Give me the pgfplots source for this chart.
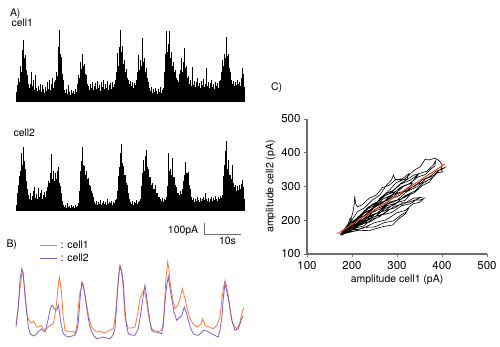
\documentclass[border=0pt]{standalone}
\usepackage{pgfplots}
\pgfplotsset{compat=1.18}
\usepackage{fontspec}
\setmainfont{TeX Gyre Heros}
\definecolor{cone}{HTML}{F47B3E}
\definecolor{ctwo}{HTML}{7E5FC4}
\definecolor{fitred}{HTML}{EE4422}
\definecolor{axgray}{HTML}{6E6E6E}
\begin{document}
\begin{tikzpicture}[x=1bp,y=1bp]
\useasboundingbox (0,0) rectangle (500,346);
% ---------- A: cell1 trace (heights above baseline) ----------
\begin{axis}[at={(16bp,244bp)}, anchor=south west, scale only axis,
  width=229bp, height=75bp, xmin=15.5, xmax=244.5, ymin=0, ymax=75,
  hide axis, clip=false]
\addplot[ycomb, black, line width=1.15bp, mark=none] table[row sep=\\, header=false, x expr=\coordindex+16, y index=0] {
10\\17\\24\\20\\36\\30\\52\\62\\44\\47\\32\\27\\18\\14\\18\\30\\16\\22\\12\\27\\14\\11\\16\\12\\18\\10\\17\\13\\9\\15\\11\\20\\13\\22\\12\\18\\24\\14\\20\\22\\
30\\26\\55\\72\\48\\45\\28\\22\\12\\9\\13\\8\\17\\10\\7\\12\\9\\11\\8\\13\\10\\18\\27\\24\\40\\33\\48\\36\\38\\28\\27\\18\\16\\12\\18\\14\\20\\12\\16\\19\\
13\\21\\14\\17\\11\\20\\15\\22\\13\\18\\14\\21\\12\\17\\19\\13\\20\\15\\18\\22\\30\\49\\36\\55\\72\\50\\56\\38\\42\\30\\33\\24\\22\\18\\21\\16\\20\\14\\19\\17\\
22\\30\\47\\32\\42\\36\\64\\40\\44\\30\\34\\24\\20\\14\\11\\15\\9\\13\\10\\14\\11\\8\\13\\10\\15\\9\\12\\14\\30\\48\\71\\50\\58\\71\\44\\50\\36\\40\\30\\32\\
24\\22\\20\\28\\32\\44\\30\\40\\54\\34\\36\\24\\26\\18\\22\\16\\35\\17\\21\\15\\20\\24\\16\\19\\14\\21\\17\\23\\15\\18\\34\\16\\20\\14\\19\\22\\15\\18\\13\\20\\
16\\19\\14\\21\\22\\30\\42\\36\\48\\44\\65\\46\\48\\34\\30\\22\\18\\21\\16\\20\\17\\22\\18\\20\\16\\24\\34\\28\\15\\
};
\end{axis}
% ---------- A: cell2 trace ----------
\begin{axis}[at={(16bp,135bp)}, anchor=south west, scale only axis,
  width=229bp, height=75bp, xmin=15.5, xmax=244.5, ymin=0, ymax=75,
  hide axis, clip=false]
\addplot[ycomb, black, line width=1.15bp, mark=none] table[row sep=\\, header=false, x expr=\coordindex+16, y index=0] {
6\\18\\26\\35\\40\\58\\46\\64\\50\\42\\30\\22\\16\\12\\18\\11\\15\\20\\24\\13\\17\\12\\23\\14\\18\\21\\12\\16\\19\\14\\20\\24\\30\\28\\38\\57\\32\\40\\30\\38\\
32\\40\\44\\28\\25\\18\\10\\6\\4\\6\\3\\8\\4\\5\\3\\6\\4\\5\\3\\6\\4\\5\\8\\20\\40\\50\\64\\46\\45\\36\\40\\32\\33\\26\\25\\20\\18\\14\\9\\7\\
10\\6\\9\\7\\11\\6\\8\\10\\7\\9\\6\\12\\7\\9\\8\\10\\6\\9\\8\\11\\12\\20\\35\\44\\58\\67\\48\\45\\36\\36\\28\\26\\18\\12\\9\\7\\10\\6\\9\\8\\
11\\7\\9\\10\\12\\25\\38\\51\\40\\55\\61\\44\\42\\34\\34\\26\\28\\22\\22\\26\\18\\18\\14\\14\\12\\10\\13\\9\\12\\11\\14\\25\\58\\40\\42\\36\\53\\34\\34\\26\\
24\\18\\18\\16\\20\\17\\22\\30\\36\\49\\38\\38\\39\\26\\22\\14\\11\\13\\9\\12\\10\\14\\11\\9\\13\\10\\12\\14\\11\\18\\12\\10\\13\\9\\12\\14\\10\\13\\11\\15\\
12\\10\\14\\12\\15\\13\\16\\35\\46\\60\\70\\42\\51\\36\\36\\32\\46\\28\\24\\26\\20\\25\\21\\26\\22\\27\\31\\24\\12\\
};
\end{axis}
% ---------- canvas axis (pixel-like positions, y downward) for B, scale bar and texts ----------
\begin{axis}[at={(0bp,0bp)}, anchor=south west, scale only axis,
  width=500bp, height=346bp, xmin=0, xmax=500, ymin=0, ymax=346, y dir=reverse,
  hide axis, clip=false]
% B: cell1 (orange)
\addplot[cone, line width=0.8bp, mark=none] coordinates {
(16,323.7) (18,310) (20,288) (21.5,276) (22.7,272) (24,282) (25.5,300) (26.7,312) (28,318) (30,322) (31.7,323) (33.5,321) (36.7,327) (38.5,327) (40.7,325.3) (43,328) (45,330.3) (48.3,327) (51,325) (53.3,323.7) (55,315) (56.7,302) (58,288) (59.3,277) (60.5,284) (61.7,295.3) (63,315) (65,330.3) (67,331) (70,332) (72.5,331) (75,333.7) (77,325) (78.5,305) (80,292) (82.7,283.7) (84.5,292) (86.7,305.3) (89,318) (91.7,327) (94,330) (96.7,332) (100,331) (103,333) (106.7,332) (110,330) (113.3,328.7) (115.5,315) (117.3,292) (118.8,275) (120,267) (121.5,272) (123,285) (125,318) (128,328) (131,328) (135,327) (137.5,315) (140,298.7) (143.3,290.3) (145,294) (146.7,302) (149,318) (151.7,328.7) (155,331) (158.3,332) (161,330) (163.3,327) (164.5,305) (165.7,282) (167.7,262) (169,270) (170,282) (172.5,298) (175,308.7) (177.5,306) (180,298.7) (182.3,288.7) (185,298.7) (187.5,310) (190,318.7) (193,324) (196.7,327) (199,326) (201,323.7) (202.7,318.7) (205,325.3) (209,327) (213.3,328.7) (217,325) (220,317) (221.8,300) (223.3,288.7) (225,280.3) (226.5,286) (228.3,295.3) (230,308) (231.7,320.3) (234,326) (236.7,328.7) (238.5,326) (240,322) (242.3,312) (243.5,308)};
% B: cell2 (purple)
\addplot[ctwo, line width=0.8bp, mark=none] coordinates {
(16,327) (18,310) (20,280) (21.7,268.7) (23,272) (25,295) (26.7,312) (28.3,327) (30,333) (31.7,335) (34,336) (36.7,333.7) (39,331) (41.7,328.7) (43.5,331) (45,332) (46.5,326) (48.3,318.7) (50,310) (51.7,305.3) (53,306) (54,308.7) (56.7,310) (58.3,305.3) (59.5,312) (60.7,322) (63.3,333.7) (66,336) (68.3,337) (72,336) (75,335) (77,330) (78.3,322) (80,300) (81.7,282) (83.3,285.3) (85,295) (87.3,312) (89.5,325) (91.7,332) (94,336) (96.7,338.7) (100,338) (103.3,337) (107,338) (110,338.7) (113,335) (115,328.7) (116.7,305) (118.3,278.7) (120,265.3) (121.5,270) (123.3,282) (125,310) (126.5,325.3) (128.3,333.7) (131,335) (135,335.3) (138.3,328.7) (141,312) (143.3,295.3) (145,285.3) (146.5,295) (147.7,305.3) (150,322) (151.7,330.3) (154,332) (156.7,332) (159,333) (161.7,333.7) (163.5,320) (165,302) (166.7,285) (168.3,277) (170,288) (171.7,298.7) (174,312) (176.7,320.3) (179,318) (181.7,315.3) (184.3,307) (186.5,313) (188.3,320.3) (190.5,328) (193.3,333.7) (196,335) (198.3,335.3) (201,333) (203.3,330.3) (207,331) (211.7,333.7) (215,335.5) (218.3,337) (220,330) (221.7,318.7) (223.3,298) (225,283.7) (226.5,290) (228.3,298.7) (230.5,312) (232.3,322) (235,330.3) (238.3,328.7) (240,324) (241.7,318.7) (243,316)};
% legend samples
\addplot[cone, line width=1.1bp, mark=none] coordinates {(40,245.5) (56.5,245.5)};
\addplot[ctwo, line width=1.1bp, mark=none] coordinates {(40,258.3) (56.5,258.3)};
% scale bar
\addplot[axgray, line width=0.9bp, mark=none] coordinates {(204.3,223) (204.3,234.3) (241,234.3)};
% texts
\node[anchor=base west, font=\fontsize{10.5}{12}\selectfont] at (axis cs:6.5,16.8) {A)};
\node[anchor=base west, font=\fontsize{10.5}{12}\selectfont] at (axis cs:8,26.3) {cell1};
\node[anchor=base west, font=\fontsize{10.5}{12}\selectfont] at (axis cs:10,136.3) {cell2};
\node[anchor=base east, font=\fontsize{10.5}{12}\selectfont] at (axis cs:201.7,233.3) {100pA};
\node[anchor=base west, font=\fontsize{10.5}{12}\selectfont] at (axis cs:215.5,244.3) {10s};
\node[anchor=base west, font=\fontsize{10.5}{12}\selectfont] at (axis cs:3,247.5) {B)};
\node[anchor=base west, font=\fontsize{10.5}{12}\selectfont] at (axis cs:57,248.7) {: cell1};
\node[anchor=base west, font=\fontsize{10.5}{12}\selectfont] at (axis cs:57,261.5) {: cell2};
\node[anchor=base west, font=\fontsize{10.5}{12}\selectfont] at (axis cs:267.5,90.7) {C)};
\end{axis}
% ---------- C: scatter of amplitudes ----------
\begin{axis}[at={(307bp,92bp)}, anchor=south west, scale only axis,
  width=180bp, height=135bp, xmin=100, xmax=500, ymin=100, ymax=500,
  axis lines*=left, axis line style={axgray, line width=1.1bp},
  xtick={100,200,300,400,500}, ytick={100,200,300,400,500},
  tick align=outside, major tick length=3bp,
  tick style={axgray, line width=1bp},
  /pgf/number format/assume math mode=true,
  tick label style={font=\fontsize{11.5}{13}\selectfont},
  xticklabel style={yshift=-1bp},
  label style={font=\fontsize{10.5}{12}\selectfont},
  xlabel={amplitude cell1 (pA)}, ylabel={amplitude cell2 (pA)},
  xlabel style={yshift=2bp}, ylabel style={yshift=-1bp},
  clip=false]
\addplot[black, line width=0.6bp, mark=none] coordinates {
(182,166) (195,180) (210,190) (228,215) (245,233) (262,265) (280,285) (298,311) (318,323) (338,348) (352,359) (362,380) (372,379) (385,384) (394,376) (400,366) (398,350) (388,346) (372,329) (356,320) (340,301) (322,292) (305,273) (288,264) (270,243) (252,232) (236,211) (220,200) (205,181) (192,174) (184,163)
(178,162) (188,183) (198,197) (212,225) (228,237) (246,261) (262,275) (276,303) (288,320) (292,334) (296,321) (308,320) (322,320) (336,333) (348,338) (344,330) (330,309) (314,300) (298,281) (282,270) (266,249) (250,238) (234,217) (216,206) (200,185) (188,178) (180,164)
(176,160) (186,179) (196,195) (202,224) (205,248) (206,272) (208,249) (212,240) (222,245) (238,265) (254,275) (268,297) (282,303) (296,319) (312,323) (326,338) (322,320) (308,309) (292,289) (276,279) (260,257) (244,247) (228,223) (214,211) (200,187) (188,177) (178,162)
(180,164) (196,175) (214,183) (234,207) (256,221) (278,247) (300,259) (322,285) (344,299) (364,323) (382,333) (396,351) (406,356) (398,349) (402,343) (390,341) (378,325) (360,313) (340,287) (318,273) (296,247) (274,235) (252,211) (230,199) (208,179) (190,173) (180,161)
(178,160) (200,171) (224,176) (250,193) (276,201) (298,221) (318,229) (336,249) (350,253) (360,265) (352,260) (340,260) (326,253) (312,252) (296,237) (280,231) (262,211) (244,203) (226,183) (208,177) (190,163) (180,164)
(182,160) (210,169) (240,170) (268,181) (290,186) (306,207) (318,218) (326,236) (320,224) (308,215) (292,198) (272,193) (250,180) (226,179) (204,167) (186,166)
(176,158) (190,175) (206,190) (222,217) (240,230) (258,251) (278,259) (300,279) (322,287) (344,307) (362,313) (380,328) (372,313) (356,303) (338,281) (318,271) (298,251) (278,243) (258,223) (238,213) (218,191) (198,181) (184,164)
(178,162) (194,187) (210,203) (228,229) (248,243) (268,269) (288,283) (308,307) (330,319) (350,339) (366,345) (380,363) (386,376) (384,361) (376,352) (362,335) (346,328) (328,309) (308,298) (288,275) (268,262) (248,237) (228,222) (208,195) (190,180) (178,163)
(174,156) (182,173) (190,184) (196,207) (202,194) (210,195) (224,198) (238,210) (232,194) (218,187) (204,172) (190,167) (178,156)
(180,165) (200,179) (222,187) (246,209) (270,219) (294,241) (316,249) (336,265) (354,268) (346,264) (330,249) (310,243) (288,223) (264,215) (240,195) (216,187) (196,169) (182,167)
(180,168) (198,193) (216,211) (236,239) (256,253) (276,275) (296,285) (316,303) (334,310) (330,302) (312,285) (292,277) (272,255) (252,243) (232,217) (212,203) (194,177) (182,170)
(178,164) (196,181) (216,193) (238,219) (262,233) (286,255) (310,263) (330,277) (318,259) (296,251) (274,229) (250,217) (228,193) (206,183) (188,165) (180,166)};
\addplot[fitred, line width=1bp, mark=none] coordinates {(168,160) (406,366)};
\end{axis}
\end{tikzpicture}
\end{document}
